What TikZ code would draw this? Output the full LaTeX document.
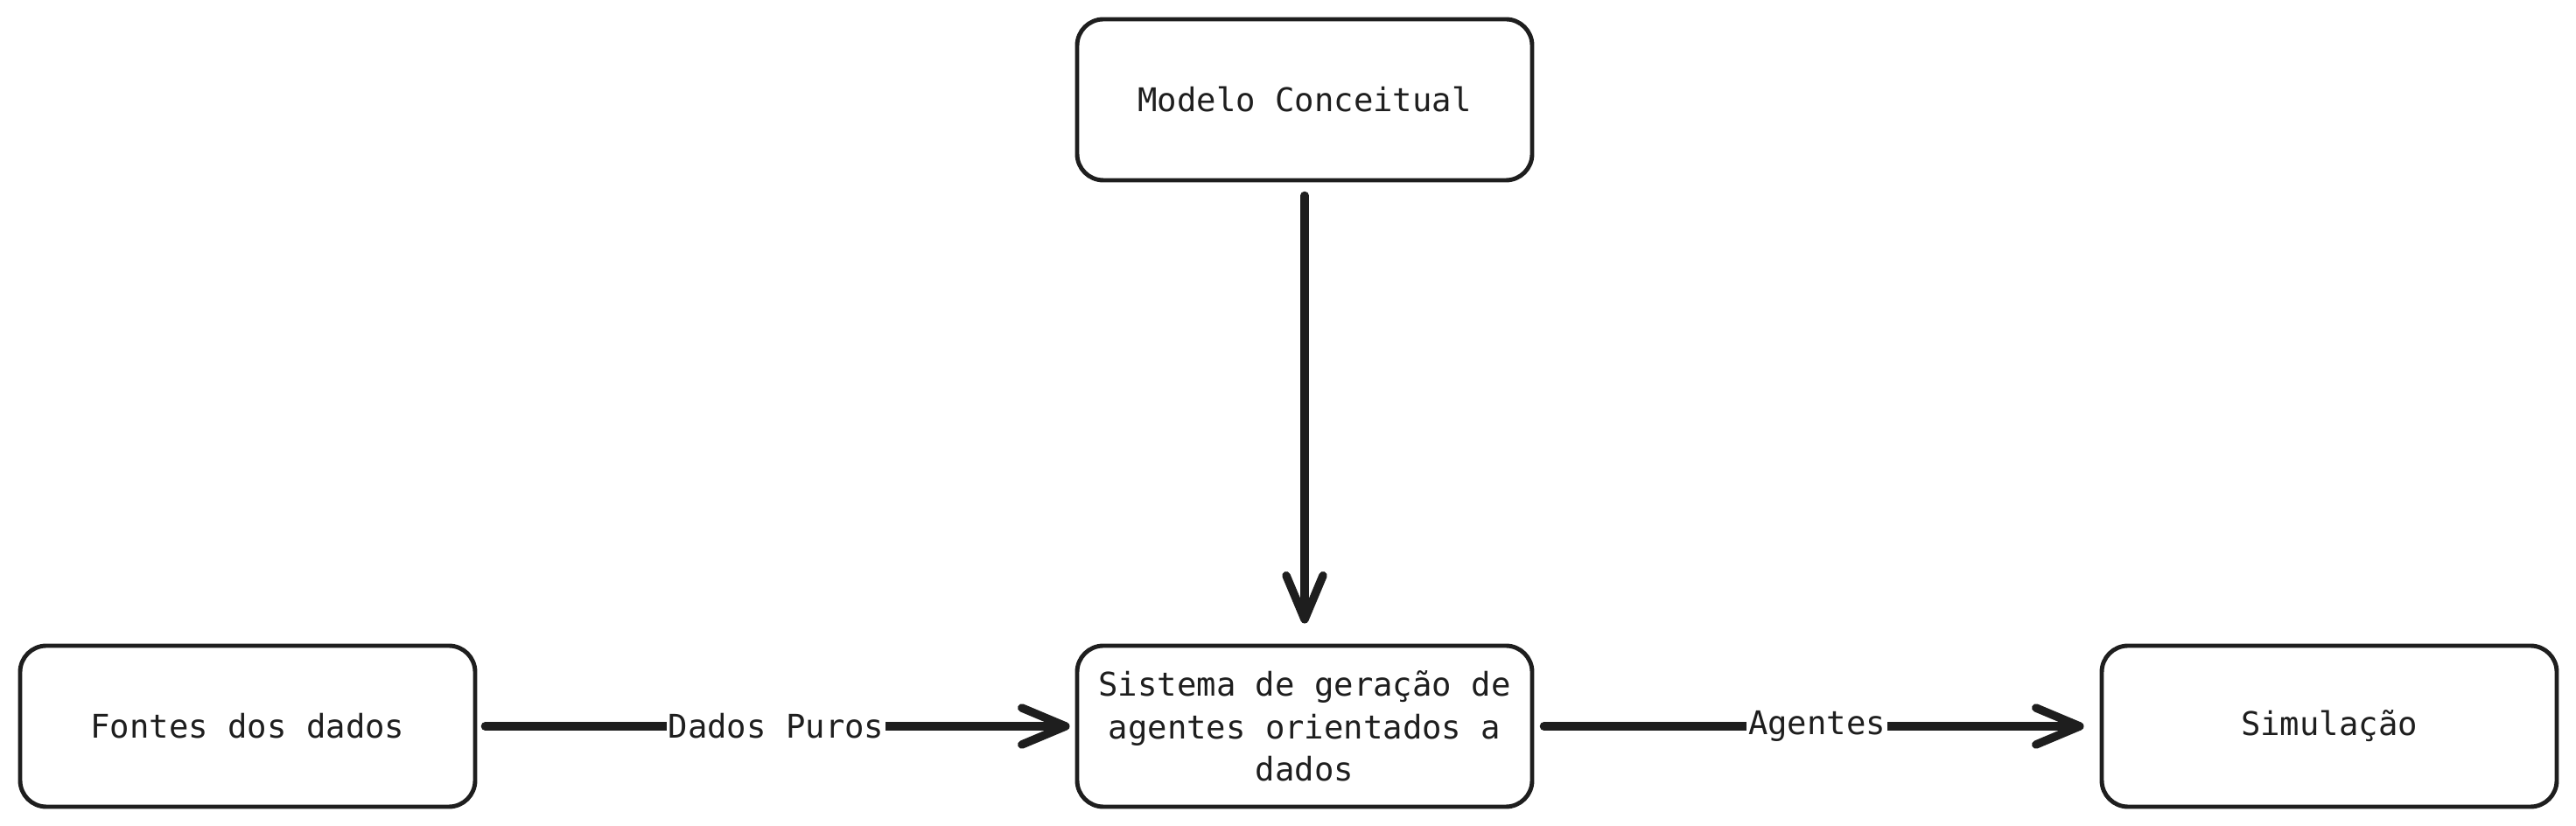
\documentclass[tikz,border=0pt]{standalone}
\usepackage{fontspec}
\setmonofont{DejaVu Sans Mono}
\usepackage{xcolor}
\usepackage{tikz}
\usetikzlibrary{arrows.meta,calc,positioning}
\definecolor{ink}{HTML}{1E1E1E}

\begin{document}
\begin{tikzpicture}[
		block/.style={draw=ink, line width=1.4pt, rounded corners=0.3cm, minimum width=5.2cm, minimum height=1.84cm, align=center, text=ink, font=\ttfamily\fontsize{10.6}{13.8}\selectfont},
		arr/.style={draw=ink, line width=2.7pt, line cap=round, -{Straight Barb[length=0.5cm, width=0.42cm, line cap=round, line join=round]}},
		lbl/.style={fill=white, inner sep=0.5pt, text=ink, font=\ttfamily\fontsize{10.6}{13.8}\selectfont}]
		\useasboundingbox (0,0) rectangle (29.44,9.44);
		\node[block] (modelo) at (14.91,8.30) {Modelo Conceitual};
		\node[block] (sistema) at (14.91,1.14) {Sistema de geração de\\agentes orientados a\\dados};
		\node[block] (fontes) at (2.83,1.14) {Fontes dos dados};
		\node[block] (sim) at (26.62,1.14) {Simulação};
		\draw[arr, shorten <=0.15cm, shorten >=0.23cm] (modelo) -- (sistema);
		\draw[arr, shorten <=0.09cm, shorten >=0.06cm] (fontes) -- node[lbl] {Dados Puros} (sistema);
		\draw[arr, shorten <=0.11cm, shorten >=0.18cm] (sistema) -- node[lbl] {Agentes} (sim);
	\end{tikzpicture}
\end{document}
